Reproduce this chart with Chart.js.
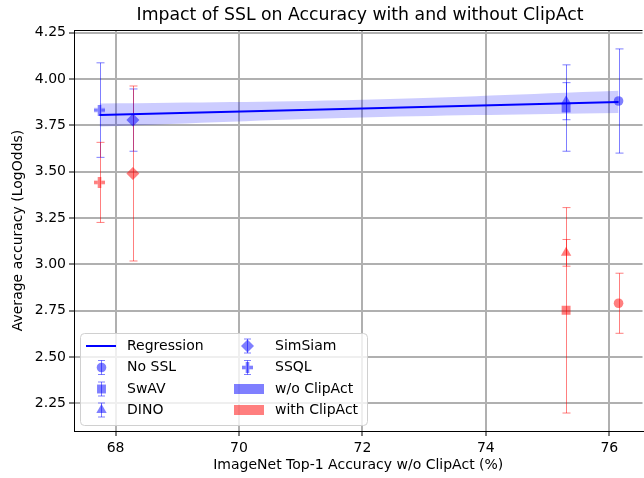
<!DOCTYPE html>
<html>
<head>
<meta charset="utf-8">
<script src="https://cdn.jsdelivr.net/npm/chart.js@4/dist/chart.umd.min.js"></script>
<style>
  html, body { margin: 0; background: #fff; overflow: hidden; width: 644px; height: 478px; }
  #chart { display: block; }
</style>
</head>
<body>
<!-- a few pixels wider than the window: the right spine falls just outside, as in the reference -->
<canvas id="chart" width="649" height="478"></canvas>
<script>
// Data
const methods = ['No SSL', 'SwAV', 'DINO', 'SimSiam', 'SSQL'];
const markers = ['circle', 'rect', 'triangle', 'rectRot', 'plus'];
const imagenetTop1 = [76.15, 75.3, 75.3, 68.28, 67.74];
const accNoClip = [3.881, 3.843, 3.88, 3.778, 3.832];
const errNoClip = [0.281, 0.233, 0.10, 0.168, 0.255];
const accClip = [2.79, 2.752, 3.062, 3.49, 3.442];
const errClip = [0.162, 0.554, 0.072, 0.472, 0.216];

// Regression line and its confidence band
const regX = [67.74, 72, 76.15];
const regY = [3.805, 3.840, 3.876];
const bandLow = [3.743, 3.792, 3.816];
const bandHigh = [3.867, 3.888, 3.936];

const xTicks = [68, 70, 72, 74, 76];
const yTicks = [2.25, 2.5, 2.75, 3.0, 3.25, 3.5, 3.75, 4.0, 4.25];

const BLUE = 'rgba(0,0,255,0.5)';
const RED = 'rgba(255,0,0,0.5)';
const FONT = "'DejaVu Sans', sans-serif";

// filled plus marker (matplotlib 'P') as a small canvas
function plusImage(color) {
    const c = document.createElement('canvas');
    c.width = 11; c.height = 11;
    const g = c.getContext('2d');
    g.fillStyle = color;
    g.fillRect(3.7, 0, 3.6, 11);
    g.fillRect(0, 3.7, 3.7, 3.6);
    g.fillRect(7.3, 3.7, 3.7, 3.6);
    return c;
}
const plusBlue = plusImage(BLUE);
const plusRed = plusImage(RED);

function styleFor(m, color) {
    if (m === 'plus') return color === BLUE ? plusBlue : plusRed;
    return m;
}
const radiusFor = { circle: 4.8, rect: 6.3, triangle: 6, rectRot: 6.5, plus: 5 };

function pointData(ys) {
    return imagenetTop1.map((x, i) => ({ x: x, y: ys[i] }));
}

const datasets = [
    {
        label: 'band-high',
        type: 'line',
        data: regX.map((x, i) => ({ x: x, y: bandHigh[i] })),
        borderWidth: 0,
        pointRadius: 0,
        fill: '+1',
        backgroundColor: 'rgba(0,0,255,0.2)',
        tension: 0.4,
        order: 3
    },
    {
        label: 'band-low',
        type: 'line',
        data: regX.map((x, i) => ({ x: x, y: bandLow[i] })),
        borderWidth: 0,
        pointRadius: 0,
        fill: false,
        tension: 0.4,
        order: 3
    },
    {
        label: 'Regression',
        type: 'line',
        data: regX.map((x, i) => ({ x: x, y: regY[i] })),
        borderColor: '#0000ff',
        borderWidth: 2,
        pointRadius: 0,
        fill: false,
        order: 2
    },
    {
        label: 'w/o ClipAct',
        data: pointData(accNoClip),
        errors: errNoClip,
        errColor: BLUE,
        backgroundColor: BLUE,
        borderWidth: 0,
        pointStyle: markers.map(m => styleFor(m, BLUE)),
        pointRadius: markers.map(m => radiusFor[m]),
        order: 1
    },
    {
        label: 'with ClipAct',
        data: pointData(accClip),
        errors: errClip,
        errColor: RED,
        backgroundColor: RED,
        borderWidth: 0,
        pointStyle: markers.map(m => styleFor(m, RED)),
        pointRadius: markers.map(m => radiusFor[m]),
        order: 1
    }
];

// error bars drawn through the chart's own scales
const errorBars = {
    id: 'errorBars',
    beforeDatasetsDraw(chart) {
        const ctx = chart.ctx;
        const xs = chart.scales.x, ys = chart.scales.y;
        ctx.save();
        chart.data.datasets.forEach(ds => {
            if (!ds.errors) return;
            ctx.strokeStyle = ds.errColor;
            ctx.lineWidth = 1;
            ds.data.forEach((p, i) => {
                const px = Math.round(xs.getPixelForValue(p.x)) + 0.5;
                const top = ys.getPixelForValue(p.y + ds.errors[i]);
                const bot = ys.getPixelForValue(p.y - ds.errors[i]);
                ctx.beginPath();
                ctx.moveTo(px, top); ctx.lineTo(px, bot);
                ctx.moveTo(px - 4, top); ctx.lineTo(px + 4, top);
                ctx.moveTo(px - 4, bot); ctx.lineTo(px + 4, bot);
                ctx.stroke();
            });
        });
        ctx.restore();
    }
};

function drawMarker(ctx, m, x, y, color) {
    if (m === 'plus') {
        ctx.drawImage(color === BLUE ? plusBlue : plusRed, x - 5.5, y - 5.5);
        return;
    }
    ctx.fillStyle = color;
    ctx.strokeStyle = 'rgba(0,0,0,0)';
    Chart.helpers.drawPoint(ctx, { pointStyle: m, radius: radiusFor[m], rotation: 0, borderWidth: 0 }, x, y);
}

// title, top spine and the in-axes legend
const decorations = {
    id: 'decorations',
    afterDraw(chart) {
        const ctx = chart.ctx;
        const a = chart.chartArea;
        ctx.save();
        // top spine
        ctx.strokeStyle = '#000';
        ctx.lineWidth = 1;
        ctx.beginPath();
        ctx.moveTo(a.left, a.top + 0.5);
        ctx.lineTo(a.right, a.top + 0.5);
        ctx.stroke();

        // title
        ctx.fillStyle = '#000';
        ctx.font = '17.3px ' + FONT;
        ctx.textAlign = 'center';
        ctx.textBaseline = 'middle';
        ctx.fillText('Impact of SSL on Accuracy with and without ClipAct', 360, 16);

        // legend box
        const bx = 80.5, by = 333.5, bw = 287, bh = 92, r = 4;
        ctx.beginPath();
        ctx.roundRect(bx, by, bw, bh, r);
        ctx.fillStyle = 'rgba(255,255,255,0.8)';
        ctx.fill();
        ctx.strokeStyle = '#d0d0d0';
        ctx.stroke();

        ctx.font = '14px ' + FONT;
        ctx.textAlign = 'left';
        ctx.fillStyle = '#000';
        const rows = [346, 367.5, 389, 410];

        // Regression entry
        ctx.strokeStyle = '#0000ff';
        ctx.lineWidth = 2;
        ctx.beginPath();
        ctx.moveTo(86, rows[0]); ctx.lineTo(116, rows[0]);
        ctx.stroke();
        ctx.fillText('Regression', 127, rows[0]);

        // marker entries with small error bars
        const slots = [
            [101, rows[1], 127], [101, rows[2], 127], [101, rows[3], 127],
            [247, rows[0], 275], [247, rows[1], 275]
        ];
        methods.forEach((name, i) => {
            const [mx, my, tx] = slots[i];
            ctx.strokeStyle = BLUE;
            ctx.lineWidth = 1;
            ctx.beginPath();
            ctx.moveTo(mx + 0.5, my - 7); ctx.lineTo(mx + 0.5, my + 7);
            ctx.moveTo(mx - 3, my - 7); ctx.lineTo(mx + 4, my - 7);
            ctx.moveTo(mx - 3, my + 7); ctx.lineTo(mx + 4, my + 7);
            ctx.stroke();
            drawMarker(ctx, markers[i], mx + 0.5, my, BLUE);
            ctx.fillStyle = '#000';
            ctx.fillText(name, tx, my);
        });

        // colour patches
        ctx.fillStyle = BLUE;
        ctx.fillRect(234, rows[2] - 5, 30, 10);
        ctx.fillStyle = RED;
        ctx.fillRect(234, rows[3] - 5, 30, 10);
        ctx.fillStyle = '#000';
        ctx.fillText('w/o ClipAct', 275, rows[2]);
        ctx.fillText('with ClipAct', 275, rows[3]);
        ctx.restore();
    }
};

new Chart(document.getElementById('chart'), {
    type: 'scatter',
    data: { datasets: datasets },
    options: {
        responsive: false,
        animation: false,
        layout: { padding: { top: 30, right: 0, left: 0, bottom: 0 } },
        plugins: {
            legend: { display: false },
            title: { display: false },
            tooltip: { enabled: false }
        },
        scales: {
            x: {
                type: 'linear',
                min: 67.326,
                max: 76.538,
                afterBuildTicks: s => { s.ticks = xTicks.map(v => ({ value: v })); },
                afterFit: s => { s.height = 47; },
                grid: { color: '#b0b0b0', lineWidth: 2, tickColor: '#000', tickWidth: 1, tickLength: 5 },
                border: { color: '#000', width: 1 },
                ticks: { color: '#000', font: { family: FONT, size: 14 }, padding: 4, maxRotation: 0 },
                title: { display: true, text: 'ImageNet Top-1 Accuracy w/o ClipAct (%)', color: '#000', font: { family: FONT, size: 14 }, padding: { top: 5 } }
            },
            y: {
                type: 'linear',
                min: 2.101,
                max: 4.264,
                afterBuildTicks: s => { s.ticks = yTicks.map(v => ({ value: v })); },
                afterFit: s => { s.width = 74; },
                grid: { color: '#b0b0b0', lineWidth: 2, tickColor: '#000', tickWidth: 1, tickLength: 5 },
                border: { color: '#000', width: 1 },
                ticks: { color: '#000', font: { family: FONT, size: 14 }, padding: 3, callback: v => v.toFixed(2) },
                title: { display: true, text: 'Average accuracy (LogOdds)', color: '#000', font: { family: FONT, size: 14 }, padding: { top: 10, bottom: 0 } }
            }
        }
    },
    plugins: [errorBars, decorations]
});
</script>
</body>
</html>
